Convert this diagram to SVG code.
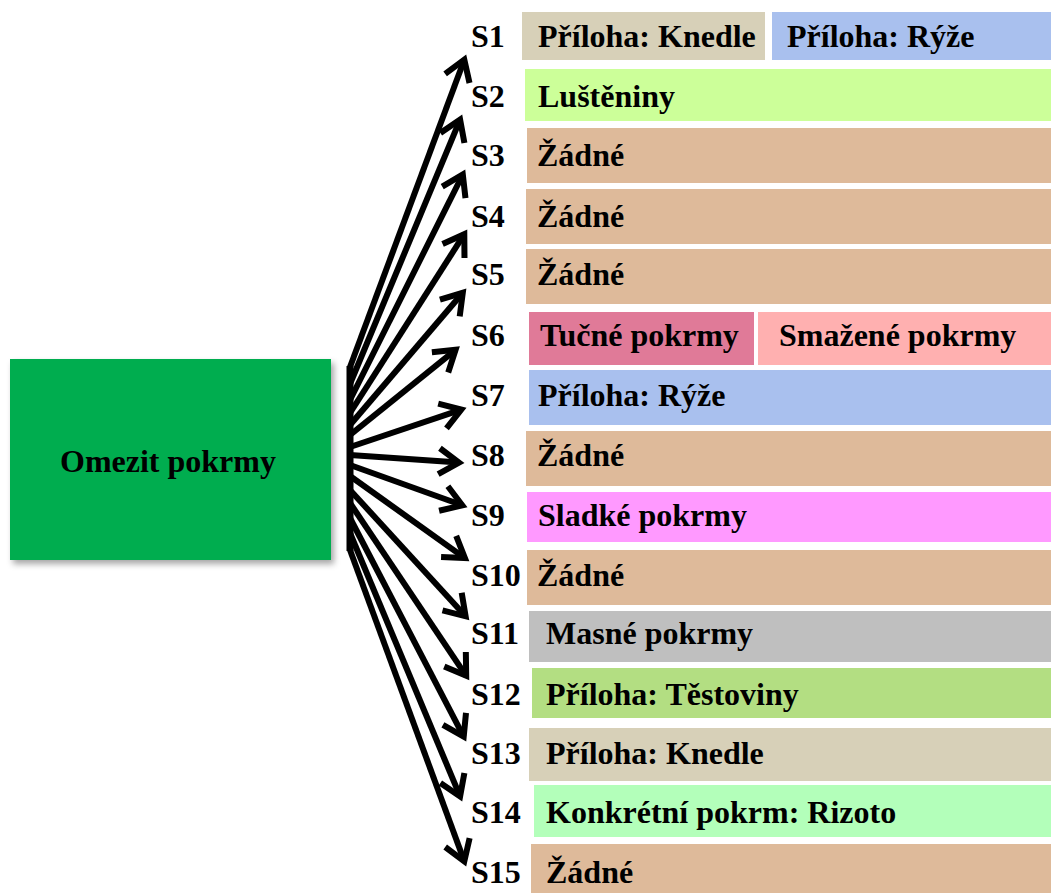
<svg xmlns="http://www.w3.org/2000/svg" width="1051" height="893" viewBox="0 0 1051 893">
  <style>
    text { font-family: "Liberation Serif", "Times New Roman", serif; font-weight: bold; font-size: 32px; fill: #000; }
    .edge { stroke: #000; stroke-width: 6; fill: none; stroke-linecap: butt; marker-end: url(#chev); }
    .zadne { fill: #DEBA9A; }
    .knedle { fill: #D7D0B8; }
    .ryze { fill: #A9C0EE; }
  </style>
  <defs>
    <marker id="chev" markerUnits="userSpaceOnUse" markerWidth="60" markerHeight="60" refX="0" refY="0" orient="auto" overflow="visible">
      <path d="M-20,-13 L0,0 L-20,13" fill="none" stroke="#000" stroke-width="6" stroke-linecap="butt" stroke-linejoin="miter"/>
    </marker>
    <filter id="shadow" x="-10%" y="-10%" width="125%" height="130%">
      <feDropShadow dx="3" dy="4" stdDeviation="3" flood-color="#000" flood-opacity="0.35"/>
    </filter>
  </defs>

  <rect width="1051" height="893" fill="#fff"/>

  <!-- source node -->
  <g id="omezit">
    <rect x="10" y="359" width="321" height="201" fill="#00AD4F" filter="url(#shadow)"/>
    <text x="168" y="472" text-anchor="middle">Omezit pokrmy</text>
  </g>

  <!-- fan of connectors -->
  <g id="connectors">
    <line x1="350" y1="366" x2="350" y2="551" stroke="#000" stroke-width="7"/>
    <line class="edge" x1="350" y1="367" x2="464.3" y2="59.7"/>
    <line class="edge" x1="350" y1="384" x2="460.1" y2="119.6"/>
    <line class="edge" x1="350" y1="400" x2="462.8" y2="174.5"/>
    <line class="edge" x1="350" y1="413" x2="464.3" y2="234.2"/>
    <line class="edge" x1="350" y1="425" x2="462.8" y2="292.8"/>
    <line class="edge" x1="350" y1="435" x2="455.6" y2="349.8"/>
    <line class="edge" x1="350" y1="447" x2="461.3" y2="409.6"/>
    <line class="edge" x1="350" y1="455" x2="459" y2="462.6"/>
    <line class="edge" x1="350" y1="465" x2="462.3" y2="505.3"/>
    <line class="edge" x1="350" y1="476" x2="464.9" y2="558.1"/>
    <line class="edge" x1="350" y1="490" x2="465.6" y2="616.3"/>
    <line class="edge" x1="350" y1="503" x2="466.2" y2="675.8"/>
    <line class="edge" x1="350" y1="518" x2="463.7" y2="736.6"/>
    <line class="edge" x1="350" y1="533" x2="460.1" y2="796.4"/>
    <line class="edge" x1="350" y1="550" x2="464.3" y2="861.3"/>
  </g>

  <g id="s1">
    <text x="471" y="47">S1</text>
    <rect class="knedle" x="522" y="12" width="243" height="48"/>
    <text x="538" y="47">Příloha: Knedle</text>
    <rect class="ryze" x="772" y="12" width="279" height="48"/>
    <text x="787" y="47">Příloha: Rýže</text>
  </g>
  <g id="s2">
    <text x="471" y="107">S2</text>
    <rect x="525" y="69" width="526" height="52" fill="#CCFF99"/>
    <text x="538" y="107">Luštěniny</text>
  </g>
  <g id="s3">
    <text x="471" y="166">S3</text>
    <rect class="zadne" x="527" y="128" width="524" height="55"/>
    <text x="537" y="166">Žádné</text>
  </g>
  <g id="s4">
    <text x="471" y="227">S4</text>
    <rect class="zadne" x="526" y="189" width="525" height="55"/>
    <text x="537" y="227">Žádné</text>
  </g>
  <g id="s5">
    <text x="471" y="285">S5</text>
    <rect class="zadne" x="526" y="249" width="525" height="55"/>
    <text x="537" y="285">Žádné</text>
  </g>
  <g id="s6">
    <text x="471" y="346">S6</text>
    <rect x="529" y="312" width="225" height="53" fill="#E07A98"/>
    <text x="540" y="346">Tučné pokrmy</text>
    <rect x="758" y="312" width="293" height="53" fill="#FFB0B0"/>
    <text x="779" y="346">Smažené pokrmy</text>
  </g>
  <g id="s7">
    <text x="471" y="406">S7</text>
    <rect class="ryze" x="529" y="370" width="522" height="55"/>
    <text x="538" y="406">Příloha: Rýže</text>
  </g>
  <g id="s8">
    <text x="471" y="466">S8</text>
    <rect class="zadne" x="526" y="431" width="525" height="55"/>
    <text x="537" y="466">Žádné</text>
  </g>
  <g id="s9">
    <text x="471" y="526">S9</text>
    <rect x="527" y="492" width="524" height="50" fill="#FF99FF"/>
    <text x="538" y="526">Sladké pokrmy</text>
  </g>
  <g id="s10">
    <text x="471" y="586">S10</text>
    <rect class="zadne" x="527" y="550" width="524" height="55"/>
    <text x="537" y="586">Žádné</text>
  </g>
  <g id="s11">
    <text x="471" y="644">S11</text>
    <rect x="529" y="611" width="522" height="51" fill="#BFBFBF"/>
    <text x="546" y="644">Masné pokrmy</text>
  </g>
  <g id="s12">
    <text x="471" y="705">S12</text>
    <rect x="532" y="668" width="519" height="50" fill="#B3DE82"/>
    <text x="546" y="705">Příloha: Těstoviny</text>
  </g>
  <g id="s13">
    <text x="471" y="764">S13</text>
    <rect class="knedle" x="529" y="728" width="522" height="53"/>
    <text x="546" y="764">Příloha: Knedle</text>
  </g>
  <g id="s14">
    <text x="471" y="823">S14</text>
    <rect x="534" y="785" width="517" height="52" fill="#B3FFBA"/>
    <text x="546" y="823">Konkrétní pokrm: Rizoto</text>
  </g>
  <g id="s15">
    <text x="471" y="883">S15</text>
    <rect class="zadne" x="531" y="844" width="520" height="49"/>
    <text x="546" y="883">Žádné</text>
  </g>
</svg>
